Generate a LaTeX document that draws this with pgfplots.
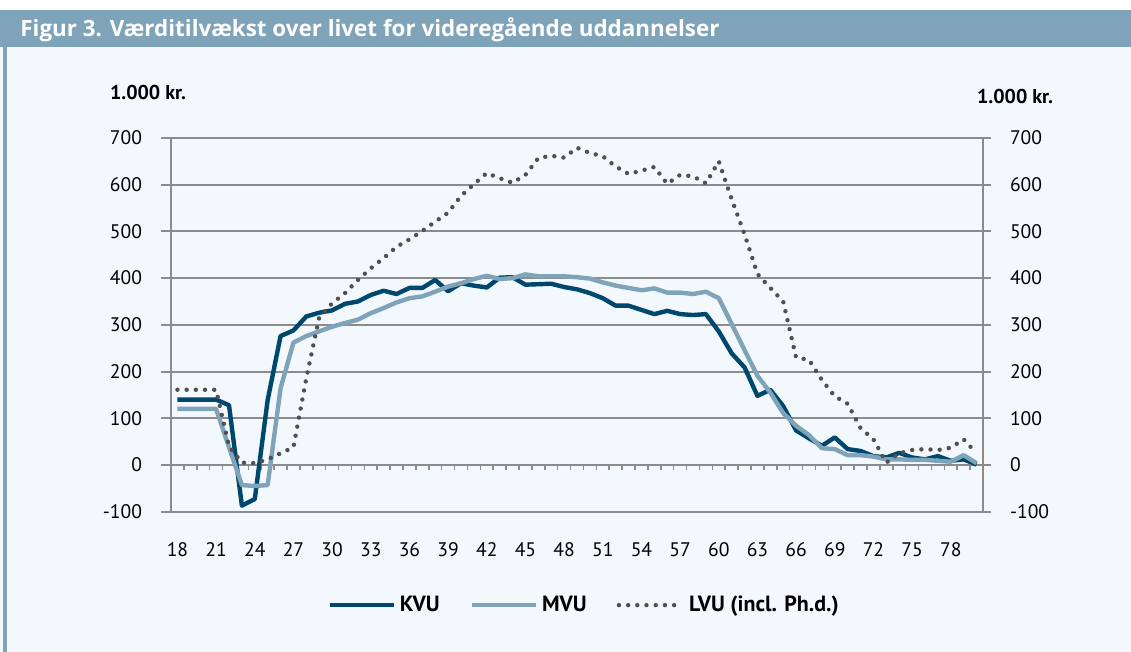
\documentclass[border=0pt]{standalone}
\usepackage{fontspec}
\setmainfont{PT Sans}
\newfontfamily\titlefont{Open Sans}
\usepackage{pgfplots}
\pgfplotsset{compat=1.18}
\usepackage{pgfplotstable}

\definecolor{kvu}{RGB}{0,71,110}
\definecolor{mvu}{RGB}{127,164,186}
\definecolor{lvu}{RGB}{80,80,80}
\definecolor{barcol}{RGB}{127,163,184}
\definecolor{bgcol}{RGB}{243,248,252}
\definecolor{gridgray}{RGB}{140,140,140}

% alder, KVU, MVU, LVU (1.000 kr.)
\pgfplotstableread{
age kvu mvu lvu
18 140 120 161
19 140 120 161
20 140 120 161
21 140 120 161
22 128 38 40
23 -87 -43 5
24 -73 -45 4
25 139 -43 12
26 276 164 25
27 288 262 38
28 318 276 186
29 326 286 316
30 331 296 346
31 345 304 368
32 350 311 396
33 364 325 421
34 373 336 443
35 366 348 467
36 379 357 483
37 379 361 501
38 396 371 521
39 372 382 540
40 389 389 576
41 384 398 601
42 380 405 625
43 401 398 614
44 402 400 604
45 386 408 621
46 387 404 657
47 388 404 662
48 381 404 658
49 376 402 679
50 368 399 668
51 357 391 661
52 341 384 639
53 341 379 623
54 332 374 630
55 323 378 638
56 330 369 602
57 323 369 621
58 321 366 618
59 323 371 603
60 286 357 650
61 239 302 569
62 209 246 494
63 148 191 409
64 161 155 379
65 126 111 350
66 74 84 230
67 57 64 225
68 41 36 182
69 59 34 147
70 34 21 131
71 30 21 79
72 19 18 55
73 16 12 5
74 26 12 25
75 16 11 32
76 12 11 34
77 19 9 32
78 9 7 37
79 12 21 55
80 1 4 25
}\datatable

\begin{document}
\begin{tikzpicture}
% ramme
\fill[bgcol] (0,0) rectangle (565.5bp,326bp);
\fill[white] (0,321bp) rectangle (565.5bp,326bp);
\fill[barcol] (0,302.5bp) rectangle (565.5bp,321bp);
\fill[barcol] (1.5bp,0) rectangle (3.5bp,302.5bp);
\node[anchor=west, text=white, font=\titlefont\fontsize{11.2bp}{13bp}\selectfont\bfseries, inner sep=0]
  at (10bp,311.2bp) {Figur 3. Værditilvækst over livet for videregående uddannelser};
\node[font=\fontsize{10bp}{12bp}\selectfont\bfseries] at (74bp,279.5bp) {1.000 kr.};
\node[font=\fontsize{10bp}{12bp}\selectfont\bfseries] at (507.5bp,277.5bp) {1.000 kr.};

\begin{axis}[
    at={(85.5bp,70.15bp)}, anchor=south west,
    width=406bp, height=186.85bp, scale only axis,
    xmin=17.5, xmax=80.5, ymin=-100, ymax=700,
    xtick={18,21,...,78}, ytick={-100,0,...,700},
    xtick pos=bottom, ytick pos=left,
    tick align=outside, major tick length=5bp,
    xtick style={draw=none},
    ytick style={gridgray, line width=1bp},
    ymajorgrids, grid style={gridgray, line width=1bp},
    axis line style={gridgray, line width=1bp},
    /pgf/number format/assume math mode=true,
    ticklabel style={font=\fontsize{9.8bp}{12bp}\selectfont},
    yticklabel style={xshift=-6bp},
    xticklabel style={yshift=-7bp},
    legend columns=3,
    legend style={draw=none, fill=none, at={(0.51,-0.25)}, anchor=center,
        font=\fontsize{11bp}{13bp}\selectfont\bfseries,
        /tikz/every even column/.append style={column sep=13bp}},
    legend image code/.code={\draw[#1] (0bp,0bp) -- (32bp,0bp);},
]
\pgfplotsinvokeforeach{18.5,19.5,...,79.5}{
  \draw[gridgray, line width=0.8bp] (axis cs:#1,0) -- ([yshift=-2.5bp]axis cs:#1,0);
}
\addplot[kvu, line width=2.2bp, line join=round] table[x=age, y=kvu] {\datatable};
\addlegendentry{KVU}
\addplot[mvu, line width=2.2bp, line join=round] table[x=age, y=mvu] {\datatable};
\addlegendentry{MVU}
\addplot[lvu, line width=2.2bp, line cap=round, dash pattern=on 0bp off 4.6bp] table[x=age, y=lvu] {\datatable};
\addlegendentry{LVU (incl. Ph.d.)}
\end{axis}

\begin{axis}[
    at={(85.5bp,70.15bp)}, anchor=south west,
    width=406bp, height=186.85bp, scale only axis,
    xmin=17.5, xmax=80.5, ymin=-100, ymax=700,
    axis x line=none, axis y line*=right,
    ytick={-100,0,...,700},
    tick align=outside, major tick length=4bp,
    ytick style={gridgray, line width=1bp},
    axis line style={gridgray, line width=1bp},
    /pgf/number format/assume math mode=true,
    ticklabel style={font=\fontsize{9.8bp}{12bp}\selectfont},
    yticklabel style={xshift=6bp},
]
\end{axis}
\pgfresetboundingbox
\useasboundingbox (0,0) rectangle (565.5bp,326bp);
\end{tikzpicture}
\end{document}
